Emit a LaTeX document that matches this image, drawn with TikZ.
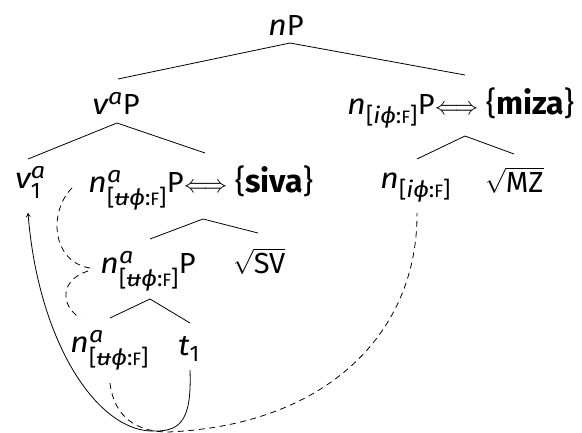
\documentclass[tikz,border=0pt]{standalone}
\usepackage{amsmath}
\usepackage{graphicx}
\usepackage{fontspec}
\setmainfont{Fira Sans}
\newfontfamily\mitfont[FakeStretch=1.12]{Fira Sans}
\DeclareMathSizes{29}{29}{22.5}{17}
\usetikzlibrary{arrows.meta}
\newcommand{\im}[1]{\text{\mitfont\itshape #1}}
\newcommand{\smF}{\scalebox{0.8}{F}}
\newcommand{\uF}{\text{[\mitfont\itshape ʉϕ\normalfont:\smF]}}
\newcommand{\iF}{\text{[\mitfont\itshape iϕ\normalfont:\smF]}}
\newcommand{\dbl}{\scalebox{0.95}[1]{$\Longleftrightarrow$}}
\newcommand{\bw}[1]{{\fontsize{32}{36}\selectfont\{\textbf{#1}\}}}
\begin{document}
\begin{tikzpicture}[x=1pt,y=-1pt,
  lbl/.style={inner sep=0pt,font=\fontsize{29}{34}\selectfont},
  edge/.style={line width=0.8pt},
  dsh/.style={line width=0.8pt,dash pattern=on 6pt off 4.5pt}]
\useasboundingbox (0,0) rectangle (582,432);
% nodes
\node[lbl,anchor=base] (nP) at (286,35) {$\im{n}$P};
\node[lbl,anchor=base] (vP) at (116,114) {$\im{v}^{\im{a}}$P};
\node[lbl,anchor=base west] (mizaP) at (347,114) {$\im{n}_{\iF}$P\dbl\ \bw{miza}};
\node[lbl,anchor=base west] (v1) at (15,188) {$\im{v}^{\im{a}}_{\text{1}}$};
\node[lbl,anchor=base west] (sivaP) at (88,192) {$\im{n}^{\im{a}}_{\uF}$P\dbl\ \bw{siva}};
\node[lbl,anchor=base west] (nr) at (380,188) {$\im{n}_{\iF}$};
\node[lbl,anchor=base west] (mz) at (485,192) {$\sqrt{\text{MZ}}$};
\node[lbl,anchor=base west] (nmid) at (100,273) {$\im{n}^{\im{a}}_{\uF}$P};
\node[lbl,anchor=base west] (sv) at (233,273) {$\sqrt{\text{SV}}$};
\node[lbl,anchor=base west] (nlow) at (70,352) {$\im{n}^{\im{a}}_{\uF}$};
\node[lbl,anchor=base west] (t1) at (178,355) {$\im{t}_{\text{1}}$};
% edge coordinates
\coordinate (aP) at (290,43);
\coordinate (avP) at (117,123);
\coordinate (amz) at (465,136);
\coordinate (asv) at (203,219);
\coordinate (amid) at (150,299);
\draw[edge] (aP) -- (118,79);
\draw[edge] (aP) -- (465,75);
\draw[edge] (avP) -- (28,159);
\draw[edge] (avP) -- (205,153);
\draw[edge] (amz) -- (417,159);
\draw[edge] (amz) -- (514,154);
\draw[edge] (asv) -- (150,239);
\draw[edge] (asv) -- (258,233);
\draw[edge] (amid) -- (110,318);
\draw[edge] (amid) -- (190,323);
% movement curves
\coordinate (bot) at (150,431);
\coordinate (t1b) at (190,370);
\coordinate (v1b) at (28,213);
\draw[edge,-{To[length=4pt,width=5pt]}] (t1b) .. controls (192,425) and (178,432) .. (bot)
   .. controls (95,428) and (38,340) .. (v1b);
\coordinate (nlb) at (110,383);
\coordinate (nrb) at (417,213);
\draw[dsh] (nlb) .. controls (114,418) and (138,432) .. (168,432)
   .. controls (330,425) and (418,330) .. (nrb);
\coordinate (s1) at (72,188);
\coordinate (e1) at (90,268);
\draw[dsh] (s1) .. controls (48,212) and (52,262) .. (e1);
\coordinate (s2) at (88,271);
\coordinate (e2) at (80,318);
\draw[dsh] (s2) .. controls (60,280) and (60,305) .. (e2);
\end{tikzpicture}
\end{document}
